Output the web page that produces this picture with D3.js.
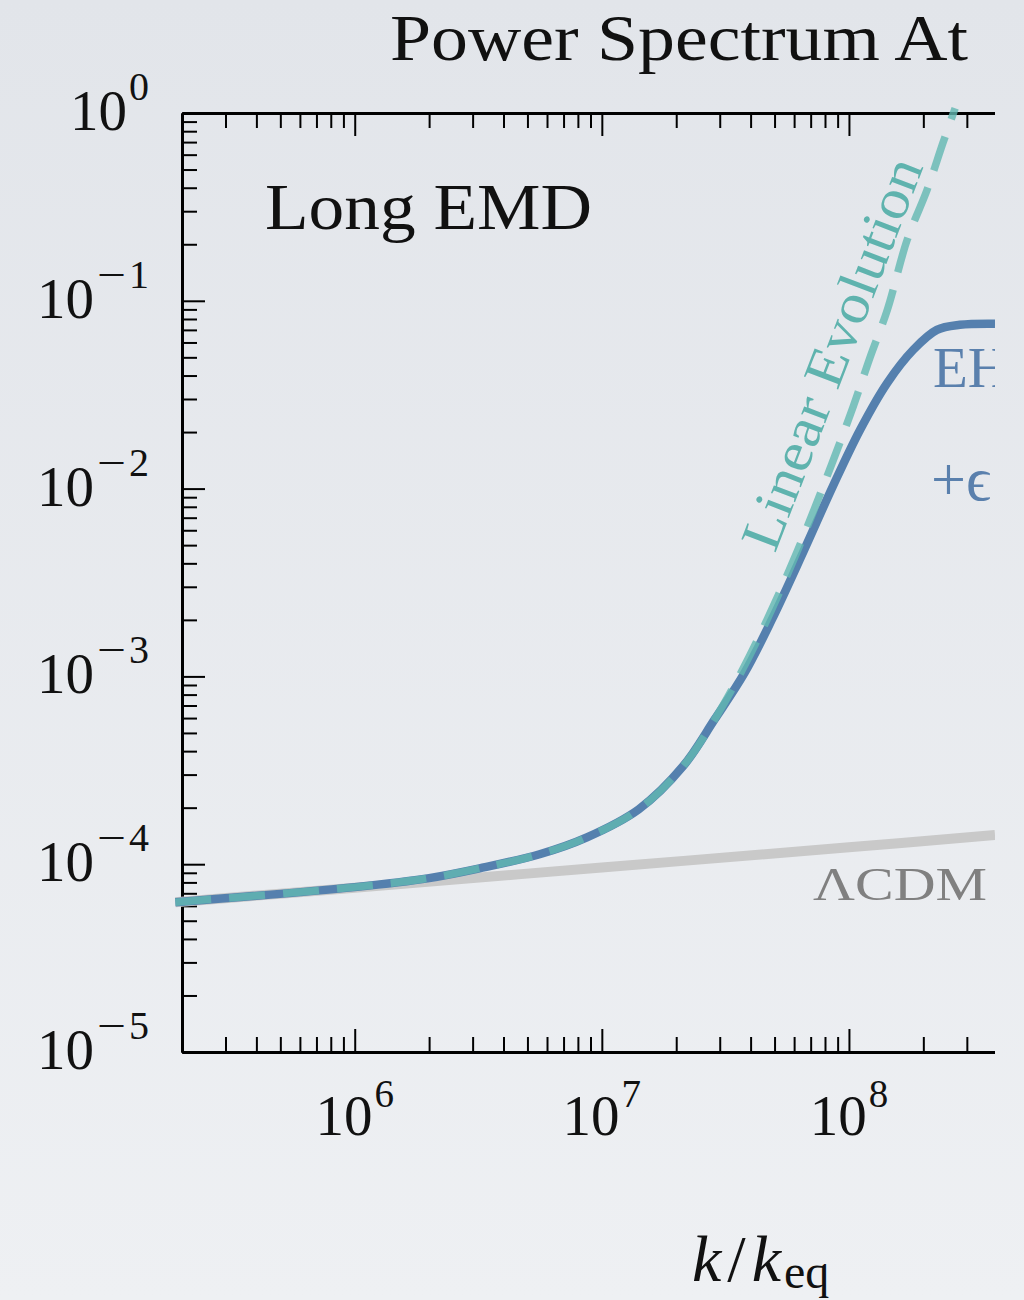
<!DOCTYPE html>
<html>
<head>
<meta charset="utf-8">
<script src="https://cdn.jsdelivr.net/npm/d3@7"></script>
<style>
  body { margin: 0; background: #e9ebef; }
  svg { display: block; }
  text { font-family: "Liberation Serif", "DejaVu Serif", serif; }
</style>
</head>
<body>
<div id="chart-container"></div>
<script>
// k / k_eq and P(k)
const kLCDM = [1.88e5, 1e6, 1e7, 1e8, 3.9e8];
const pLCDM = [6.28e-5, 7.5e-5, 9.6e-5, 1.23e-4, 1.43e-4];

const kEH = [1.88e5, 1e6, 2e6, 3.2e6, 5.6e6, 8.7e6, 1.41e7, 2.13e7, 2.86e7, 3.79e7, 4.88e7, 6.52e7, 8.61e7, 1.11e8, 1.43e8, 1.82e8, 2.27e8, 2.81e8, 3.9e8];
const pEH = [6.28e-5, 7.55e-5, 8.43e-5, 9.5e-5, 1.13e-4, 1.39e-4, 1.96e-4, 3.32e-4, 5.9e-4, 1.05e-3, 2.01e-3, 4.57e-3, 1.03e-2, 2.06e-2, 3.66e-2, 5.48e-2, 7.0e-2, 7.45e-2, 7.55e-2];

const kLin = [1.88e5, 1e6, 2e6, 3.2e6, 5.6e6, 8.7e6, 1.41e7, 2.13e7, 2.86e7, 3.7e7, 4.7e7, 6.15e7, 8.15e7, 1.04e8, 1.22e8, 1.43e8, 1.72e8, 2.07e8, 2.4e8, 2.69e8];
const pLin = [6.28e-5, 7.55e-5, 8.43e-5, 9.5e-5, 1.13e-4, 1.39e-4, 1.96e-4, 3.32e-4, 5.9e-4, 1.08e-3, 2.05e-3, 4.57e-3, 1.16e-2, 2.73e-2, 5.04e-2, 8.95e-2, 0.211, 0.389, 0.692, 1.06];

const xTickExps = [6, 7, 8];
const yTickExps = [0, -1, -2, -3, -4, -5];

const W = 1024, H = 1300;
const mLeft = 182, mRight = 995, mTop = 113, mBottom = 1052;

const svg = d3.select("#chart-container")
    .append("svg")
    .attr("width", W)
    .attr("height", H);

const defs = svg.append("defs");
const grad = defs.append("linearGradient").attr("id", "bg")
    .attr("x1", 0).attr("y1", 0).attr("x2", 0).attr("y2", 1);
grad.append("stop").attr("offset", "0%").attr("stop-color", "#e2e5ea");
grad.append("stop").attr("offset", "100%").attr("stop-color", "#eef0f3");
svg.append("rect").attr("width", W).attr("height", H).attr("fill", "url(#bg)");

defs.append("clipPath").attr("id", "clip")
    .append("rect").attr("x", 0).attr("y", 100).attr("width", mRight).attr("height", mBottom - 100);
defs.append("clipPath").attr("id", "clipText")
    .append("rect").attr("x", 0).attr("y", 0).attr("width", mRight).attr("height", H);

const x = d3.scaleLog().domain([2e5, 3.9e8]).range([mLeft, mRight]);
const y = d3.scaleLog().domain([1e-5, 1]).range([mBottom, mTop]);

// minor tick positions
const xMinor = [], yMinor = [];
for (let e = 5; e <= 8; e++) for (let m = 2; m <= 9; m++) {
    const v = m * Math.pow(10, e);
    if (v > 2e5 && v < 3.9e8) xMinor.push(v);
}
for (let e = -5; e < 0; e++) for (let m = 2; m <= 9; m++) yMinor.push(m * Math.pow(10, e));
const xMajor = xTickExps.map(e => Math.pow(10, e));
const yMajor = yTickExps.map(e => Math.pow(10, e));

function styleAxis(g) {
    g.selectAll("text").remove();
    g.selectAll(".domain").attr("stroke", "#000").attr("stroke-width", 3);
    g.selectAll(".tick line").attr("stroke", "#000").attr("stroke-width", 2);
}

const axes = svg.append("g").attr("clip-path", "url(#clipText)");
axes.append("g").attr("transform", `translate(0,${mBottom})`)
    .call(d3.axisBottom(x).tickValues(xMinor).tickSizeInner(-15).tickSizeOuter(0)).call(styleAxis);
axes.append("g").attr("transform", `translate(0,${mBottom})`)
    .call(d3.axisBottom(x).tickValues(xMajor).tickSizeInner(-23).tickSizeOuter(0)).call(styleAxis);
axes.append("g").attr("transform", `translate(0,${mTop})`)
    .call(d3.axisTop(x).tickValues(xMinor).tickSizeInner(-15).tickSizeOuter(0)).call(styleAxis);
axes.append("g").attr("transform", `translate(0,${mTop})`)
    .call(d3.axisTop(x).tickValues(xMajor).tickSizeInner(-23).tickSizeOuter(0)).call(styleAxis);
axes.append("g").attr("transform", `translate(${mLeft},0)`)
    .call(d3.axisLeft(y).tickValues(yMinor).tickSizeInner(-15).tickSizeOuter(0)).call(styleAxis);
axes.append("g").attr("transform", `translate(${mLeft},0)`)
    .call(d3.axisLeft(y).tickValues(yMajor).tickSizeInner(-23).tickSizeOuter(0)).call(styleAxis);

// tick labels with superscripts
const xl = svg.append("g").selectAll("text").data(xTickExps).enter().append("text")
    .attr("x", e => x(Math.pow(10, e)))
    .attr("y", mBottom + 83)
    .attr("text-anchor", "middle")
    .attr("font-size", 57)
    .attr("fill", "#111");
xl.append("tspan").text("10");
xl.append("tspan").attr("dx", 2).attr("dy", -28).attr("font-size", 39).text(e => e);

const yl = svg.append("g").selectAll("text").data(yTickExps).enter().append("text")
    .attr("x", 149)
    .attr("y", e => y(Math.pow(10, e)) + 17)
    .attr("text-anchor", "end")
    .attr("font-size", 57)
    .attr("fill", "#111");
yl.append("tspan").text("10");
yl.filter(e => e < 0).append("tspan")
    .attr("dx", 3).attr("dy", -30)
    .attr("font-size", 40)
    .attr("textLength", 29).attr("lengthAdjust", "spacingAndGlyphs")
    .text("\u2212");
yl.append("tspan")
    .attr("dx", e => e < 0 ? 3 : 2)
    .attr("dy", e => e < 0 ? 0 : -30)
    .attr("font-size", 40)
    .text(e => Math.abs(e));

// curves
const line = d3.line()
    .x(d => x(d[0]))
    .y(d => y(d[1]))
    .curve(d3.curveCatmullRom);

const plot = svg.append("g").attr("clip-path", "url(#clip)");
plot.append("path")
    .datum(d3.zip(kLCDM, pLCDM))
    .attr("d", line)
    .attr("fill", "none")
    .attr("stroke", "#c9c9c9")
    .attr("stroke-width", 10);
plot.append("path")
    .datum(d3.zip(kEH, pEH))
    .attr("d", line)
    .attr("fill", "none")
    .attr("stroke", "#5580ae")
    .attr("stroke-width", 8.5);
plot.append("path")
    .datum(d3.zip(kLin, pLin))
    .attr("d", line)
    .attr("fill", "none")
    .attr("stroke", "#62b8b2")
    .attr("stroke-opacity", 0.8)
    .attr("stroke-width", 7.5)
    .attr("stroke-dasharray", "36,18");

// text
svg.append("text")
    .attr("x", 390).attr("y", 60)
    .attr("font-size", 66)
    .attr("textLength", 578).attr("lengthAdjust", "spacingAndGlyphs")
    .attr("fill", "#111")
    .text("Power Spectrum At");

svg.append("text")
    .attr("x", 265).attr("y", 229)
    .attr("font-size", 66)
    .attr("textLength", 327).attr("lengthAdjust", "spacingAndGlyphs")
    .attr("fill", "#111")
    .text("Long EMD");

svg.append("text")
    .attr("transform", "translate(775,554) rotate(-69)")
    .attr("font-size", 56)
    .attr("textLength", 415).attr("lengthAdjust", "spacingAndGlyphs")
    .attr("fill", "#5fb3ae")
    .text("Linear Evolution");

const labels = svg.append("g").attr("clip-path", "url(#clipText)");
labels.append("text")
    .attr("x", 933).attr("y", 387)
    .attr("font-size", 57)
    .attr("fill", "#5a80ad")
    .text("EH");
labels.append("text")
    .attr("x", 931).attr("y", 500)
    .attr("font-size", 62)
    .attr("fill", "#5a80ad")
    .text("+\u03f5");

svg.append("text")
    .attr("x", 813).attr("y", 900)
    .attr("font-size", 47)
    .attr("textLength", 174).attr("lengthAdjust", "spacingAndGlyphs")
    .attr("fill", "#808080")
    .text("\u039bCDM");

const xlab = svg.append("text")
    .attr("x", 692).attr("y", 1281)
    .attr("font-size", 66)
    .attr("fill", "#111");
xlab.append("tspan").attr("font-style", "italic").text("k");
xlab.append("tspan").attr("dx", 6).text("/");
xlab.append("tspan").attr("dx", 6).attr("font-style", "italic").text("k");
xlab.append("tspan").attr("dx", 3).attr("dy", 7).attr("font-size", 48).text("eq");
</script>
</body>
</html>
